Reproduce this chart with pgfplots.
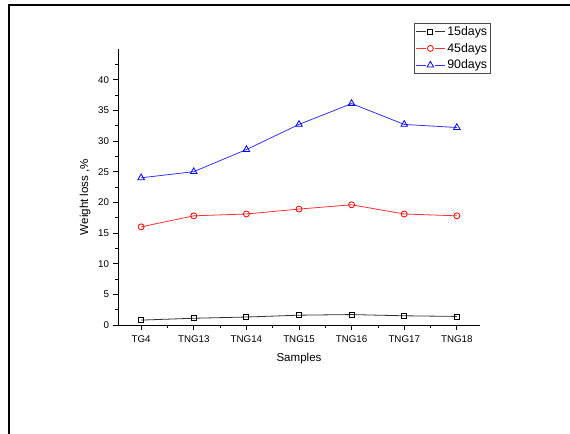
\documentclass[border=0pt]{standalone}
\usepackage{pgfplots}
\pgfplotsset{compat=1.18}
\usepackage{fontspec}
\setmainfont{Liberation Sans}
\begin{document}
\begin{tikzpicture}
\path[use as bounding box] (0bp,0bp) rectangle (570bp,434bp);
\draw[line width=2.2bp] (9bp,0bp) -- (9bp,430bp);
\draw[line width=2bp] (8bp,429bp) -- (570bp,429bp);
\begin{axis}[
  at={(118bp,109bp)}, anchor=south west,
  scale only axis, width=362bp, height=276bp,
  xmin=-0.44, xmax=6.44, ymin=0, ymax=45,
  axis x line*=bottom, axis y line*=left,
  axis line style={line width=0.8bp},
  xtick={0,1,2,3,4,5,6},
  xticklabels={TG4,TNG13,TNG14,TNG15,TNG16,TNG17,TNG18},
  minor xtick={0.5,1.5,2.5,3.5,4.5,5.5},
  ytick={0,5,10,15,20,25,30,35,40},
  minor ytick={2.5,7.5,12.5,17.5,22.5,27.5,32.5,37.5,42.5},
  tick align=outside,
  major tick length=5bp, minor tick length=3bp,
  tick style={black, line width=0.8bp},
  ticklabel style={font=\fontsize{9.8}{10}\selectfont},
  xticklabel style={yshift=-2.5bp},
  yticklabel style={xshift=-0.5bp},
  /pgf/number format/assume math mode=true,
  xlabel={Samples}, ylabel={Weight loss ,\%},
  label style={font=\fontsize{11.6}{13}\selectfont},
  xlabel style={at={(axis description cs:0.5,-0.123)}, anchor=center},
  ylabel style={at={(axis description cs:-0.091,0.464)}, anchor=center},
  legend style={at={(1.0304,1.094)}, anchor=north east, draw=black!70, line width=0.8bp,
    font=\fontsize{12.4}{13}\selectfont, inner xsep=1.5bp, inner ysep=1bp, row sep=2.3bp},
  legend cell align=left,
  legend image code/.code={
    \draw (0bp,0bp) -- (10bp,0bp);
    \draw (19bp,0bp) -- (29bp,0bp);
    \begin{scope}[shift={(14.5bp,0bp)}]
      \draw plot coordinates {(0bp,0bp)};
    \end{scope}
  },
]
\addplot[black!80, line width=0.8bp, mark=square, mark size=2.5bp, mark options={solid, black}] coordinates {
(0,0.8) (1,1.1) (2,1.3) (3,1.6) (4,1.7) (5,1.5) (6,1.4)};
\addlegendentry{15days}
\addplot[red!80, line width=0.8bp, mark=o, mark size=3bp, mark options={solid, red}] coordinates {
(0,16.0) (1,17.8) (2,18.1) (3,18.9) (4,19.6) (5,18.1) (6,17.8)};
\addlegendentry{45days}
\addplot[blue!80, line width=0.8bp, mark=triangle, mark size=3.8bp, mark options={solid, blue}] coordinates {
(0,24.0) (1,25.0) (2,28.6) (3,32.7) (4,36.1) (5,32.7) (6,32.2)};
\addlegendentry{90days}
\end{axis}
\end{tikzpicture}
\end{document}
